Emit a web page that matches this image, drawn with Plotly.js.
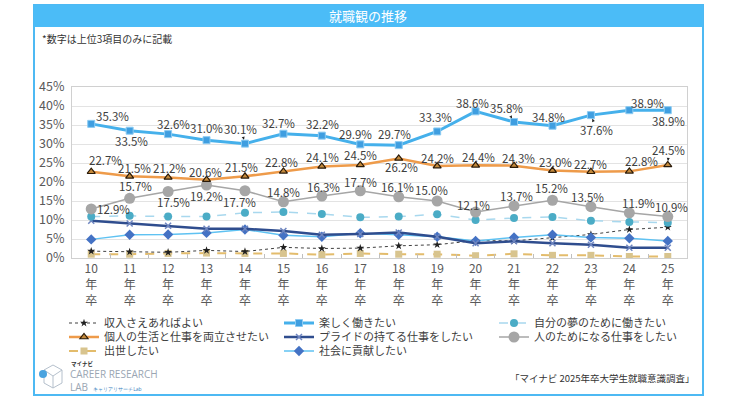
<!DOCTYPE html>
<html>
<head>
<meta charset="utf-8">
<script src="https://cdn.plot.ly/plotly-3.0.1.min.js"></script>
<style>
html,body{margin:0;padding:0;background:#fff;}
#chart{width:736px;height:400px;}
</style>
</head>
<body>
<div id="chart"></div>
<script>
// ---------- data ----------
const categories = ['10','11','12','13','14','15','16','17','18','19','20','21','22','23','24','25'];
const tickLabels = ['10<br>年<br>卒','11<br>年<br>卒','12<br>年<br>卒','13<br>年<br>卒','14<br>年<br>卒','15<br>年<br>卒','16<br>年<br>卒','17<br>年<br>卒','18<br>年<br>卒','19<br>年<br>卒','20<br>年<br>卒','21<br>年<br>卒','22<br>年<br>卒','23<br>年<br>卒','24<br>年<br>卒','25<br>年<br>卒'];

const incomeOnly   = [1.8,1.6,1.5,2.0,1.7,2.8,2.5,2.6,3.2,3.5,4.6,4.5,5.3,6.2,7.5,8.1];        // 収入さえあればよい
const enjoyWork    = [35.3,33.5,32.6,31.0,30.1,32.7,32.2,29.9,29.7,33.3,38.6,35.8,34.8,37.6,38.9,38.9]; // 楽しく働きたい
const ownDream     = [10.9,11.1,10.9,10.9,11.9,12.1,11.6,10.7,10.9,11.5,10.0,10.5,10.8,9.8,9.5,9.3];  // 自分の夢のために働きたい
const workLife     = [22.7,21.5,21.2,20.6,21.5,22.8,24.1,24.5,26.2,24.2,24.4,24.3,23.0,22.7,22.8,24.5]; // 個人の生活と仕事を両立させたい
const pride        = [9.8,9.1,8.5,7.7,7.7,7.1,6.1,6.3,6.7,5.6,3.9,4.4,3.9,3.5,2.7,2.7];          // プライドの持てる仕事をしたい
const helpPeople   = [12.9,15.7,17.5,19.2,17.7,14.8,16.3,17.7,16.1,15.0,12.1,13.7,15.2,13.5,11.9,10.9]; // 人のためになる仕事をしたい
const promotion    = [1.0,1.0,1.2,1.3,1.2,1.2,0.9,1.2,1.0,1.0,0.6,1.1,0.7,0.7,0.4,0.4];          // 出世したい
const society      = [4.9,6.1,6.2,6.6,7.5,6.0,5.6,6.5,6.1,5.6,4.5,5.4,6.1,5.4,5.2,4.5];          // 社会に貢献したい

// ---------- label placement (pixel offsets of value labels; [dx, dy, arrow]) ----------
const enjoyLabelPos = [[21,-8,0],[2,10,0],[5,-10,0],[0,-12,0],[-4,-15,1],[-5,-11,0],[1,-12,0],[-5,-10,0],[-4,-11,0],[-2,-14,1],[-3,-8,0],[-8,-14,1],[-4,-9,0],[6,15,1],[18,-7,0],[1,11,0]];
const workLifeLabelPos = [[14,-12,1],[5,-8,0],[1,-9,0],[-1,-8,0],[-3,-9,0],[-2,-9,0],[1,-9,0],[0,-10,0],[3,9,0],[0,-8,0],[3,-8,0],[4,-8,0],[3,-9,0],[0,-8,0],[12,-10,0],[1,-15,1]];
const helpLabelPos = [[22,0,0],[6,-12,1],[5,10,0],[0,11,0],[-5,11,0],[0,-10,0],[2,-9,0],[0,-9,0],[-1,-10,0],[-6,-11,0],[-2,-7,0],[2,-10,0],[-1,-12,0],[-3,-10,0],[9,-10,0],[4,-10,0]];

// ---------- geometry helpers ----------
const W = 736, H = 400;
const M = {l:72, r:49, t:87, b:142};
const PW = W - M.l - M.r, PH = H - M.t - M.b;
const px = x => (x - M.l) / PW;
const py = y => (H - M.b - y) / PH;

const FONT = '"Noto Sans CJK JP", "Noto Sans", sans-serif';

function tr(name, y, line, marker, legend, rank) {
  return {type:'scatter', mode:'lines+markers', name, x:categories, y,
    line, marker, legend, legendrank:rank, hoverinfo:'skip'};
}

const traces = [
  tr('出世したい', promotion, {color:'#E3BC6C', width:2, dash:'dash'}, {symbol:'square', size:7, color:'#D8C48E'}, 'legend3', 1),
  tr('収入さえあればよい', incomeOnly, {color:'#404040', width:1, dash:'dot'}, {symbol:'star', size:6, color:'#202020'}, 'legend', 1),
  tr('社会に貢献したい', society, {color:'#5FC2F2', width:1.5}, {symbol:'diamond', size:8, color:'#4472C4'}, 'legend3', 2),
  tr('プライドの持てる仕事をしたい', pride, {color:'#2F4D8E', width:2.5}, {symbol:'x-thin', size:6, color:'#6F86C0', line:{color:'#6F86C0', width:1.5}}, 'legend2', 2),
  tr('自分の夢のために働きたい', ownDream, {color:'#A8D8EE', width:1.5, dash:'dash'}, {symbol:'circle', size:8, color:'#4BACC6'}, 'legend', 3),
  tr('人のためになる仕事をしたい', helpPeople, {color:'#A6A6A6', width:1.5}, {symbol:'circle', size:11, color:'#A6A6A6'}, 'legend2', 3),
  tr('個人の生活と仕事を両立させたい', workLife, {color:'#EE9B4A', width:2.5}, {symbol:'triangle-up', size:7, color:'#C48A3C', line:{color:'#2a1a08', width:1.2}}, 'legend2', 1),
  tr('楽しく働きたい', enjoyWork, {color:'#45B0EB', width:3}, {symbol:'square', size:7, color:'#3F9EE0', line:{color:'#8ccbf2', width:1}}, 'legend', 2)
];

const annotations = [];
function addLabels(values, pos) {
  values.forEach((v, i) => {
    const [dx, dy, arrow] = pos[i];
    const a = {x:i, y:v, xref:'x', yref:'y', text:v.toFixed(1)+'%',
      font:{family:FONT, size:11.5, color:'#404040'}};
    if (arrow) {
      Object.assign(a, {showarrow:true, ax:dx, ay:dy, arrowhead:2, arrowsize:0.6, arrowwidth:1, arrowcolor:'#222', standoff:4});
    } else {
      Object.assign(a, {showarrow:false, xshift:dx, yshift:-dy});
    }
    annotations.push(a);
  });
}
addLabels(enjoyWork, enjoyLabelPos);
addLabels(workLife, workLifeLabelPos);
addLabels(helpPeople, helpLabelPos);

// static texts
annotations.push(
  {xref:'paper', yref:'paper', x:px(40), y:py(38), xanchor:'left', yanchor:'middle', showarrow:false,
   text:'*数字は上位3項目のみに記載', font:{family:FONT, size:10, color:'#333'}},
  {xref:'paper', yref:'paper', x:px(697), y:py(378), xanchor:'right', yanchor:'middle', showarrow:false,
   text:'「マイナビ 2025年卒大学生就職意識調査」', font:{family:FONT, size:9.5, color:'#333'}},
  {xref:'paper', yref:'paper', x:px(69), y:py(364), xanchor:'left', yanchor:'middle', showarrow:false,
   text:'<b>マイナビ</b>', font:{family:FONT, size:5.5, color:'#333'}},
  {xref:'paper', yref:'paper', x:px(68), y:py(380.5), xanchor:'left', yanchor:'middle', showarrow:false, align:'left',
   text:'CAREER RESEARCH<br>LAB  <span style="font-size:5px;color:#3A7FC0">キャリアリサーチLab</span>',
   font:{family:'"Open Sans", sans-serif', size:10, color:'#9AA6B3'}}
);

const shapes = [
  // outer frame
  {type:'rect', xref:'paper', yref:'paper', x0:px(34), x1:px(703), y0:py(395), y1:py(5), line:{color:'#4DB9F3', width:2}, layer:'below'},
  // title bar
  {type:'rect', xref:'paper', yref:'paper', x0:px(34), x1:px(703), y0:py(27), y1:py(5), fillcolor:'#4BBCF7', line:{width:0}, layer:'below'},
  // logo cube outline
  {type:'path', xref:'paper', yref:'paper',
   path:`M ${px(53)} ${py(365)} L ${px(62)} ${py(370)} L ${px(62)} ${py(383)} L ${px(53)} ${py(388)} L ${px(44)} ${py(383)} L ${px(44)} ${py(370)} Z M ${px(53)} ${py(376)} L ${px(62)} ${py(370)} M ${px(53)} ${py(376)} L ${px(53)} ${py(388)} M ${px(53)} ${py(376)} L ${px(44)} ${py(370)}`,
   line:{color:'#B5C0CC', width:1}},
  {type:'circle', xref:'paper', yref:'paper', x0:px(39), x1:px(47), y0:py(378), y1:py(370), fillcolor:'#4AA3DF', line:{width:0}}
];

const legendBase = {orientation:'h', xref:'paper', yref:'paper', x:px(64), xanchor:'left', yanchor:'middle',
  entrywidth:170, entrywidthmode:'pixels', itemwidth:30, bgcolor:'rgba(0,0,0,0)',
  font:{family:FONT, size:11, color:'#404040'}, traceorder:'normal'};

const layout = {
  width:W, height:H,
  margin:M,
  paper_bgcolor:'#fff', plot_bgcolor:'#fff',
  font:{family:FONT, color:'#595959'},
  title:{text:'就職観の推移', font:{family:FONT, size:13, color:'#fff'}, xref:'container', yref:'container', x:0.5, xanchor:'center', y:1-16/H, yanchor:'middle'},
  xaxis:{type:'category', tickvals:categories, ticktext:tickLabels, range:[-0.5,15.5],
    showline:true, mirror:true, linecolor:'#D0D0D0', linewidth:1,
    ticks:'inside', tickson:'boundaries', ticklen:4, tickcolor:'#BFBFBF',
    showgrid:false, tickfont:{family:FONT, size:12, color:'#595959'}, fixedrange:true},
  yaxis:{range:[0,45], dtick:5, ticksuffix:'%', showgrid:true, gridcolor:'#E3E3E3',
    showline:true, mirror:true, linecolor:'#D0D0D0', zeroline:false, ticklabelstandoff:4,
    tickfont:{family:FONT, size:12.5, color:'#595959'}, ticks:'', fixedrange:true},
  showlegend:true,
  legend:Object.assign({}, legendBase, {y:py(323)}),
  legend2:Object.assign({}, legendBase, {y:py(337)}),
  legend3:Object.assign({}, legendBase, {y:py(351)}),
  annotations, shapes
};

Plotly.newPlot('chart', traces, layout, {displayModeBar:false, staticPlot:true});
</script>
</body>
</html>
